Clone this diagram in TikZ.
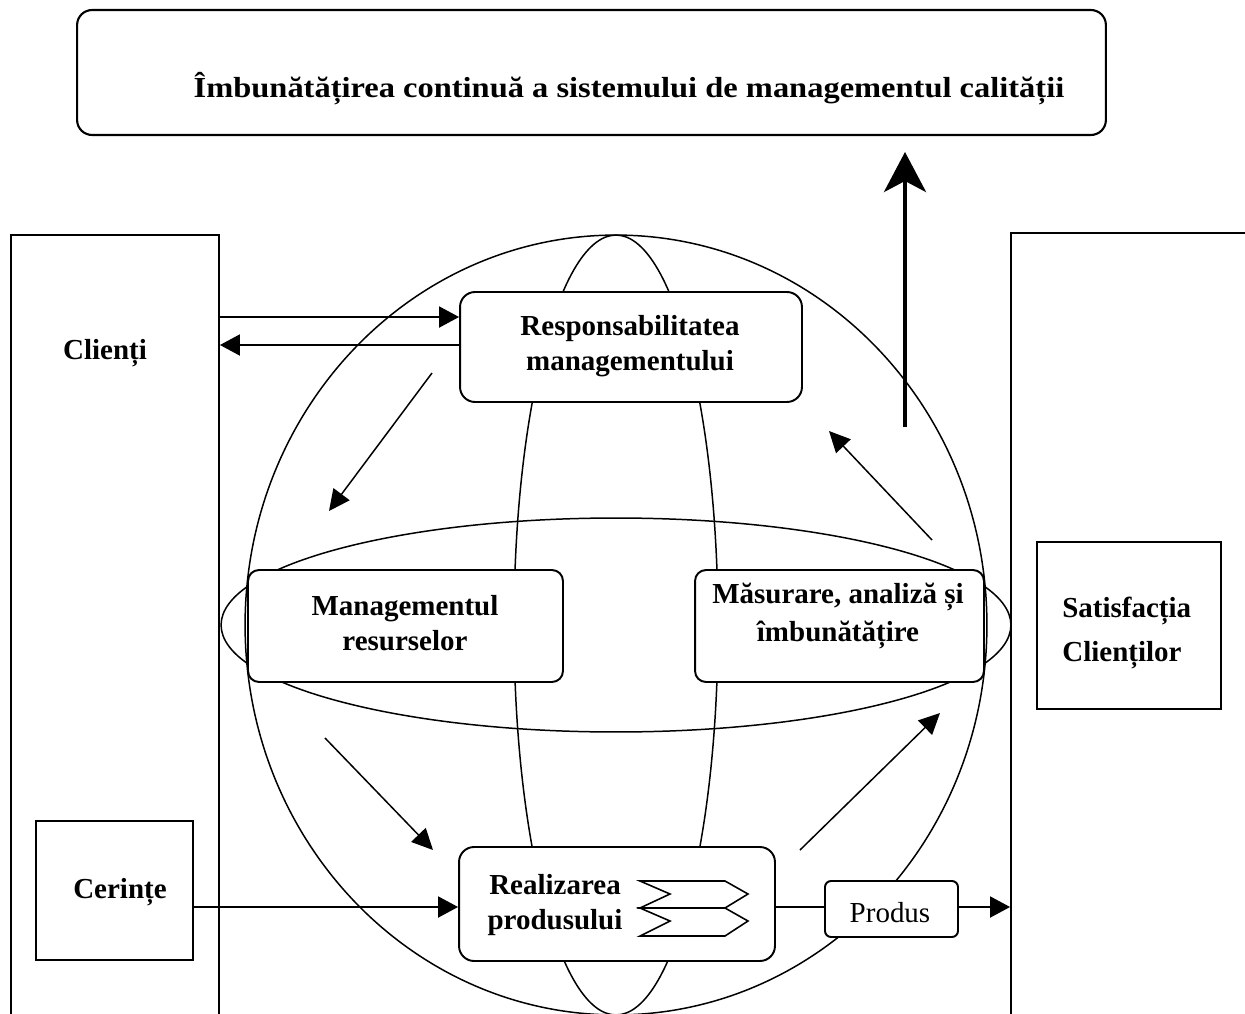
\documentclass[tikz,border=0pt]{standalone}
\usepackage{fontspec}
\usepackage{graphicx}
\setmainfont{Liberation Serif}
\usetikzlibrary{arrows.meta}

\tikzset{
  box/.style={draw, line width=1.1pt, fill=white, rounded corners=0.3cm, inner sep=0pt},
  sqbox/.style={draw, line width=1.1pt, fill=white, inner sep=0pt},
  lbl/.style={font=\bfseries\fontsize{16.5}{19.8}\selectfont, align=center, inner sep=0pt},
  plainlbl/.style={font=\fontsize{16.5}{19.8}\selectfont, inner sep=0pt},
  arr/.style={line width=1.1pt, -{Triangle[length=0.4cm,width=0.42cm]}},
  darr/.style={line width=0.85pt, -{Triangle[length=0.42cm,width=0.4cm]}},
  bigarr/.style={line width=2.4pt, -{Stealth[length=0.8cm,width=0.84cm,inset=0.22cm]}},
  globe/.style={line width=0.85pt},
  link/.style={line width=1.1pt}
}

\begin{document}
\begin{tikzpicture}[x=0.02cm, y=-0.02cm]
\useasboundingbox (0,0) rectangle (1245,1014);

% outer frames: customers on the left, satisfaction on the right
\node[sqbox, minimum width=4.16cm, minimum height=15.98cm] (clienti) at (115,634.5) {};
\node[sqbox, minimum width=4.98cm, minimum height=16.02cm] (rbox) at (1135.5,633.5) {};

% the globe: outline, meridian and equator
\draw[globe] (616,625) ellipse [x radius=7.42cm, y radius=7.8cm];
\draw[globe] (616,625) ellipse [x radius=2.04cm, y radius=7.8cm];
\draw[globe] (616,625) ellipse [x radius=7.9cm, y radius=2.14cm];

% top banner
\node[box, line width=1.2pt, minimum width=20.58cm, minimum height=2.5cm] (top) at (591.5,72.5) {};
\node[lbl] (top-t) at (629,89) {\scalebox{1.12}[1]{Îmbunătățirea continuă a sistemului de managementul calității}};

% inner boxes
\node[sqbox, minimum width=3.14cm, minimum height=2.78cm] (cerinte) at (114.5,890.5) {};
\node[sqbox, minimum width=3.68cm, minimum height=3.34cm] (satisf) at (1129,625.5) {};

\node[box, minimum width=6.84cm, minimum height=2.2cm] (resp) at (631,347) {};
\node[box, rounded corners=0.22cm, minimum width=6.3cm, minimum height=2.24cm] (mgmt) at (405.5,626) {};
\node[box, rounded corners=0.22cm, minimum width=5.78cm, minimum height=2.24cm] (masur) at (839.5,626) {};
\node[box, minimum width=6.32cm, minimum height=2.28cm] (realiz) at (617,904) {};
\node[box, rounded corners=0.12cm, minimum width=2.66cm, minimum height=1.12cm] (produs) at (891.5,909) {};

% labels
\node[lbl] (clienti-t) at (105,353) {Clienți};
\node[lbl] (cerinte-t) at (120,892) {Cerințe};
\node[lbl, align=left, anchor=west] (satisf-t) at (1062,633) {Satisfacția\\[5.5pt]Clienților};
\node[lbl] (resp-t) at (630,346) {Responsabilitatea\\managementului};
\node[lbl] (mgmt-t) at (405,623) {Managementul\\resurselor};
\node[lbl] (masur-t) at (838,616) {Măsurare, analiză și\\[1.5pt]îmbunătățire};
\node[lbl] (realiz-t) at (555,905) {Realizarea\\produsului};
\node[plainlbl] (produs-t) at (890,913) {Produs};

% process chevrons
\draw[line width=0.9pt, line join=miter] (640,881) -- (725,881) -- (748,894) -- (725,908) -- (640,908) -- (670,894) -- cycle;
\draw[line width=0.9pt, line join=miter] (640,908) -- (725,908) -- (748,921) -- (725,936) -- (640,936) -- (670,921) -- cycle;

% horizontal flows
\draw[arr] (clienti.east |- 0,317) -- (resp.west |- 0,317);
\draw[arr] (resp.west |- 0,345) -- (clienti.east |- 0,345);
\draw[arr] (cerinte.east |- 0,907) -- (realiz.west |- 0,907);
\draw[link] (realiz.east |- 0,907) -- (produs.west |- 0,907);
\draw[arr] (produs.east |- 0,907) -- (rbox.west |- 0,907);

% cycle arrows around the globe
\coordinate (d1s) at (432,373); \coordinate (d1e) at (329,511);
\coordinate (d2s) at (325,738); \coordinate (d2e) at (433,850);
\coordinate (d3s) at (800,850); \coordinate (d3e) at (940,713);
\coordinate (d4s) at (932,540); \coordinate (d4e) at (829,431);
\draw[darr] (d1s) -- (d1e);
\draw[darr] (d2s) -- (d2e);
\draw[darr] (d3s) -- (d3e);
\draw[darr] (d4s) -- (d4e);

% continual improvement arrow
\coordinate (ups) at (905,427);
\coordinate (upe) at (905,152);
\draw[bigarr] (ups) -- (upe);
\end{tikzpicture}
\end{document}
